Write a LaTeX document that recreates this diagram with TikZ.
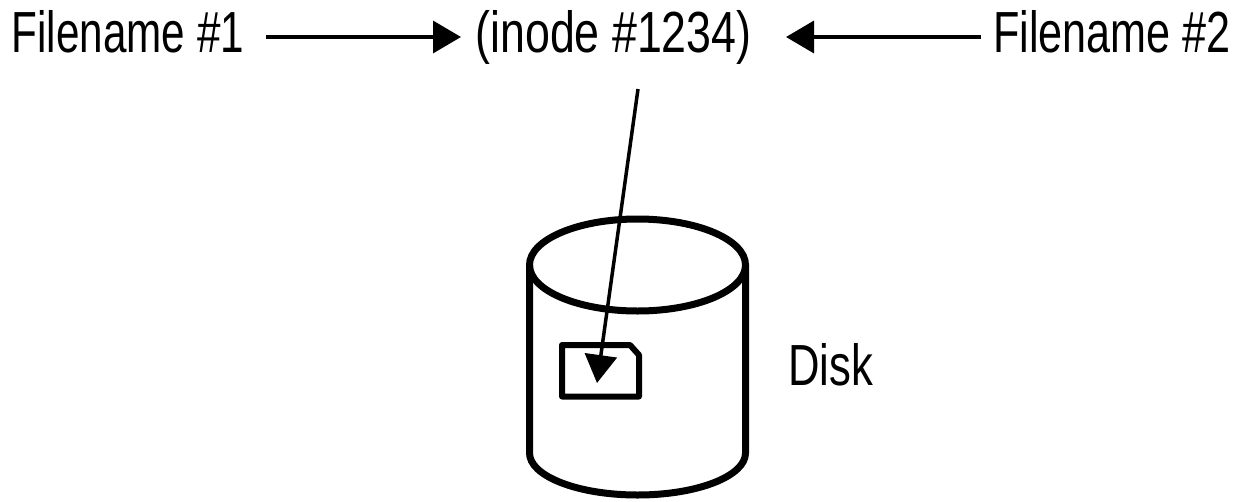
\documentclass[tikz,border=0pt]{standalone}
\usepackage{fontspec}
\setmainfont{Liberation Sans}
\usetikzlibrary{arrows.meta}
\tikzset{lab/.style={inner sep=0pt,anchor=base,font=\fontsize{58}{62}\selectfont},
 arr/.style={line width=3.5pt,-{Triangle[length=28pt,width=32pt]}},
 body/.style={line width=7pt}}
\begin{document}
\begin{tikzpicture}[x=1pt,y=-1pt]
\useasboundingbox (0,0) rectangle (1241,501);
\fill[white] (0,0) rectangle (1241,501);
\node[lab,xscale=0.728] (f1) at (128,52) {Filename \#1};
\node[lab,xscale=0.771] (in) at (613.5,52) {(inode \#1234)};
\node[lab,xscale=0.744] (f2) at (1112,52) {Filename \#2};
\node[lab,xscale=0.752] (dk) at (830.5,385) {Disk};
\coordinate (a1) at (266,37);
\coordinate (a1e) at (461,37);
\coordinate (a2) at (981,37);
\coordinate (a2e) at (786,37);
\draw[arr] (a1) -- (a1e);
\draw[arr] (a2) -- (a2e);
\draw[body] (529.5,265) -- (529.5,453) arc[start angle=180,end angle=0,x radius=108,y radius=42] -- (745.5,265);
\draw[body] (637.5,265) ellipse[x radius=108,y radius=46];
\draw[line width=6pt,line join=round] (562,345) -- (630,345) -- (639,355) -- (639,396.5) -- (562,396.5) -- cycle;
\coordinate (b1) at (638,89);
\coordinate (b2) at (597,383);
\draw[arr] (b1) -- (b2);
\end{tikzpicture}
\end{document}
